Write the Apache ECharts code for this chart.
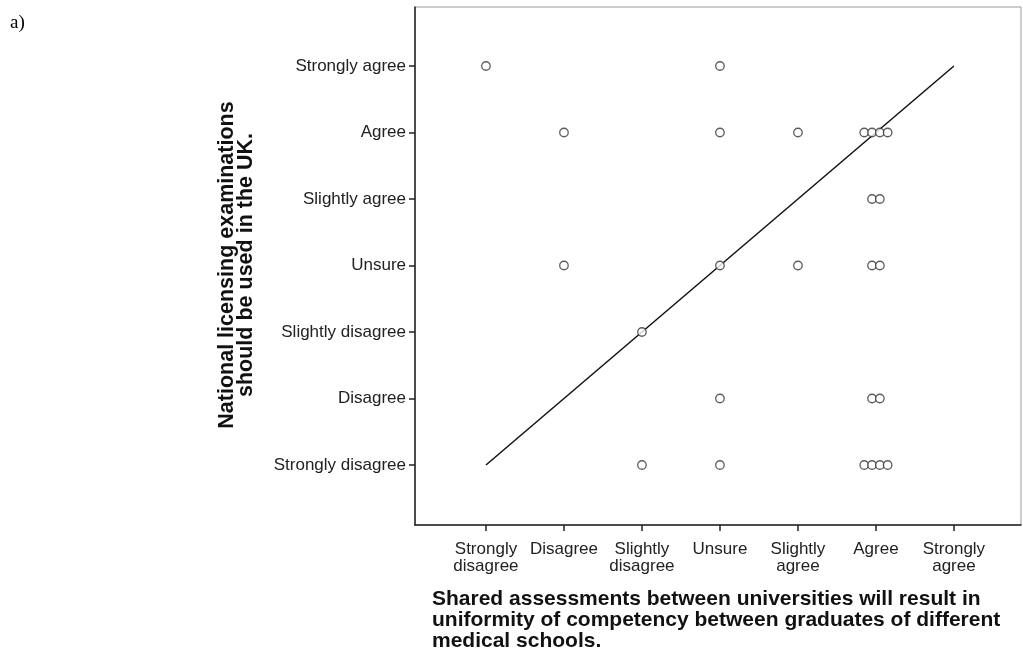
<!DOCTYPE html>
<html>
<head>
<meta charset="utf-8">
<script src="https://cdn.jsdelivr.net/npm/echarts@6/dist/echarts.min.js"></script>
<style>
  html, body { margin: 0; padding: 0; background: #fff; }
  #container { width: 1023px; height: 652px; }
</style>
</head>
<body>
<div id="container"></div>
<script>
var dom = document.getElementById("container");
var myChart = echarts.init(dom);

// x categories (shared assessments) and y categories (licensing exams)
var xLabels = ['Strongly\ndisagree', 'Disagree', 'Slightly\ndisagree', 'Unsure', 'Slightly\nagree', 'Agree', 'Strongly\nagree'];
var yLabels = ['Strongly disagree', 'Disagree', 'Slightly disagree', 'Unsure', 'Slightly agree', 'Agree', 'Strongly agree'];

// responses: [x score, y score, number of respondents]
var responses = [
    [1, 7, 1], [4, 7, 1],
    [2, 6, 1], [4, 6, 1], [5, 6, 1], [6, 6, 4],
    [6, 5, 2],
    [2, 4, 1], [4, 4, 1], [5, 4, 1], [6, 4, 2],
    [3, 3, 1],
    [4, 2, 1], [6, 2, 2],
    [3, 1, 1], [4, 1, 1], [6, 1, 4]
];

// fit line end points
var fitLine = [[1, 1], [7, 7]];

// SPSS style stacking of duplicate points side by side
var points = [];
for (var i = 0; i < responses.length; i++) {
    var n = responses[i][2];
    for (var k = 0; k < n; k++) {
        points.push([responses[i][0] + (k - (n - 1) / 2) * 0.1, responses[i][1]]);
    }
}

var ticks = [1, 2, 3, 4, 5, 6, 7];
var font = 'Liberation Sans, Arial, sans-serif';

var option = {
    animation: false,
    backgroundColor: '#fff',
    grid: { left: 415, top: 7, right: 2, bottom: 127, show: true, borderColor: '#999', borderWidth: 1 },
    xAxis: {
        type: 'value',
        min: 0.09,
        max: 7.86,
        splitLine: { show: false },
        axisLine: { show: true, lineStyle: { color: '#222', width: 1.5 } },
        axisTick: { show: true, customValues: ticks, length: 6, lineStyle: { color: '#222', width: 1.5 } },
        axisLabel: {
            customValues: ticks,
            margin: 16,
            fontFamily: font,
            fontSize: 17,
            lineHeight: 17,
            color: '#222',
            formatter: function (v) { return xLabels[Math.round(v) - 1]; }
        }
    },
    yAxis: {
        type: 'value',
        min: 0.098,
        max: 7.887,
        splitLine: { show: false },
        axisLine: { show: true, lineStyle: { color: '#222', width: 1.5 } },
        axisTick: { show: true, customValues: ticks, length: 6, lineStyle: { color: '#222', width: 1.5 } },
        axisLabel: {
            customValues: ticks,
            margin: 9,
            fontFamily: font,
            fontSize: 17,
            color: '#222',
            formatter: function (v) { return yLabels[Math.round(v) - 1]; }
        }
    },
    graphic: [
        {
            type: 'text', left: 10, top: 14,
            style: { text: 'a)', font: '19px "Liberation Serif", "Times New Roman", serif', fill: '#000' }
        },
        {
            type: 'text', x: 237, y: 265, rotation: Math.PI / 2,
            style: {
                text: 'National licensing examinations\nshould be used in the UK.',
                font: 'bold 21.5px "Liberation Sans", Arial, sans-serif',
                lineHeight: 19,
                fill: '#111',
                align: 'center',
                verticalAlign: 'middle'
            }
        },
        {
            type: 'text', left: 432, top: 589,
            style: {
                text: 'Shared assessments between universities will result in\nuniformity of competency between graduates of different\nmedical schools.',
                font: 'bold 21px "Liberation Sans", Arial, sans-serif',
                lineHeight: 21,
                fill: '#111'
            }
        }
    ],
    series: [
        {
            type: 'line',
            data: fitLine,
            symbol: 'none',
            lineStyle: { color: '#111', width: 1.5 },
            z: 2
        },
        {
            type: 'scatter',
            data: points,
            symbol: 'circle',
            symbolSize: 8.5,
            itemStyle: { color: '#fff', borderColor: '#333', borderWidth: 1.3 },
            z: 3
        }
    ]
};

myChart.setOption(option);
</script>
</body>
</html>
